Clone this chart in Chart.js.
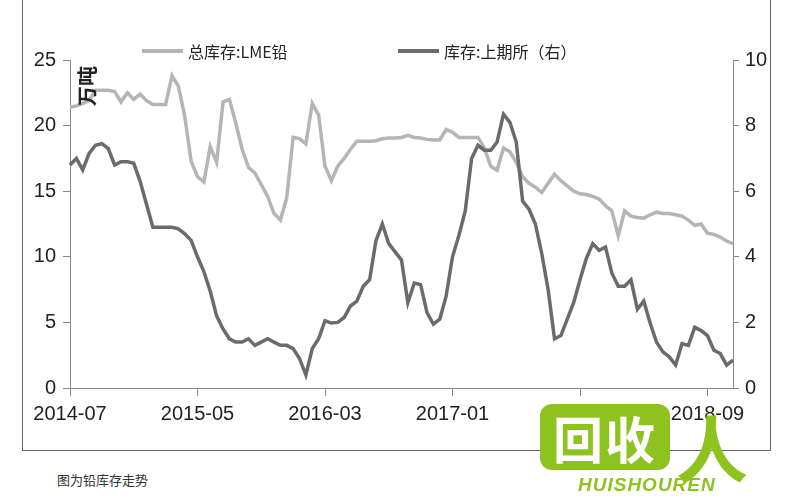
<!DOCTYPE html>
<html>
<head>
<meta charset="utf-8">
<script src="https://cdn.jsdelivr.net/npm/chart.js@4.4.1/dist/chart.umd.min.js"></script>
<style>
  body { margin: 0; background: #fff; }
  #wrap { position: relative; width: 800px; height: 500px; overflow: hidden; font-family: "Noto Sans CJK SC", sans-serif; }
  #box { position: absolute; left: 22px; top: -2px; width: 747px; height: 452px; border: 1px solid #666; border-top: none; }
  #chart { position: absolute; left: 0; top: 0; }
  .item { position: absolute; top: 39px; display: flex; align-items: center; font-size: 16px; color: #222; white-space: nowrap; }
  .swatch { width: 41px; height: 4px; margin-right: 5px; }
  #caption { position: absolute; left: 57px; top: 470px; font-size: 13px; color: #333; }
  #logo { position: absolute; left: 540px; top: 404px; width: 130px; height: 66px; background: #8dc21f; border-radius: 12px;
          color: #fff; font-size: 50px; font-weight: bold; line-height: 66px; text-align: center; letter-spacing: 2px; }
  #logo2 { position: absolute; left: 676px; top: 392px; color: #8dc21f; font-size: 72px; font-weight: bold; }
  #logo3 { position: absolute; left: 578px; top: 474px; color: #8dc21f; font: italic bold 19px "Liberation Sans", sans-serif; letter-spacing: 1px; }
</style>
</head>
<body>
<div id="wrap">
  <div id="box"></div>
  <canvas id="chart" width="800" height="440"></canvas>
  <div id="legend"></div>
  <div id="caption">图为铅库存走势</div>
  <div id="logo">回收</div>
  <div id="logo2">人</div>
  <div id="logo3">HUISHOUREN</div>
</div>
<script>
// 半月一个点：2014-07 ~ 2018-11
const fechas = [
  "2014-07-01","2014-07-16","2014-08-01","2014-08-16","2014-09-01","2014-09-16","2014-10-01","2014-10-16","2014-11-01","2014-11-16","2014-12-01","2014-12-16",
  "2015-01-01","2015-01-16","2015-02-01","2015-02-16","2015-03-01","2015-03-16","2015-04-01","2015-04-16","2015-05-01","2015-05-16","2015-06-01","2015-06-16",
  "2015-07-01","2015-07-16","2015-08-01","2015-08-16","2015-09-01","2015-09-16","2015-10-01","2015-10-16","2015-11-01","2015-11-16","2015-12-01","2015-12-16",
  "2016-01-01","2016-01-16","2016-02-01","2016-02-16","2016-03-01","2016-03-16","2016-04-01","2016-04-16","2016-05-01","2016-05-16","2016-06-01","2016-06-16",
  "2016-07-01","2016-07-16","2016-08-01","2016-08-16","2016-09-01","2016-09-16","2016-10-01","2016-10-16","2016-11-01","2016-11-16","2016-12-01","2016-12-16",
  "2017-01-01","2017-01-16","2017-02-01","2017-02-16","2017-03-01","2017-03-16","2017-04-01","2017-04-16","2017-05-01","2017-05-16","2017-06-01","2017-06-16",
  "2017-07-01","2017-07-16","2017-08-01","2017-08-16","2017-09-01","2017-09-16","2017-10-01","2017-10-16","2017-11-01","2017-11-16","2017-12-01","2017-12-16",
  "2018-01-01","2018-01-16","2018-02-01","2018-02-16","2018-03-01","2018-03-16","2018-04-01","2018-04-16","2018-05-01","2018-05-16","2018-06-01","2018-06-16",
  "2018-07-01","2018-07-16","2018-08-01","2018-08-16","2018-09-01","2018-09-16","2018-10-01","2018-10-16","2018-11-01"
];

// 总库存:LME铅 (万吨, 左轴)
const lme = [
  21.4, 21.5, 21.7, 21.9, 22.7, 22.7, 22.7, 22.6, 21.8, 22.5,
  22.0, 22.4, 21.9, 21.6, 21.6, 21.6, 23.8, 23.0, 20.7, 17.3,
  16.1, 15.7, 18.4, 17.2, 21.8, 22.0, 20.2, 18.2, 16.8, 16.4,
  15.5, 14.6, 13.3, 12.8, 14.5, 19.1, 19.0, 18.6, 21.7, 20.8,
  16.9, 15.8, 16.9, 17.5, 18.2, 18.8, 18.8, 18.8, 18.85, 19.0,
  19.05, 19.05, 19.1, 19.25, 19.1, 19.05, 18.95, 18.9, 18.9, 19.7,
  19.5, 19.1, 19.1, 19.1, 19.1, 18.3, 16.9, 16.6, 18.3, 18.0,
  17.2, 16.1, 15.6, 15.3, 14.9, 15.6, 16.3, 15.8, 15.4, 15.0,
  14.8, 14.75, 14.6, 14.4, 13.9, 13.5, 11.6, 13.5, 13.1, 13.0,
  12.95, 13.2, 13.4, 13.3, 13.3, 13.2, 13.1, 12.8, 12.4, 12.5,
  11.8, 11.7, 11.5, 11.2, 11.0
];

// 库存:上期所 (万吨, 右轴)
const shfe = [
  6.8, 7.0, 6.65, 7.15, 7.4, 7.45, 7.3, 6.8, 6.9, 6.9,
  6.85, 6.3, 5.6, 4.9, 4.9, 4.9, 4.9, 4.85, 4.7, 4.5,
  4.0, 3.55, 2.95, 2.2, 1.8, 1.5, 1.4, 1.4, 1.5, 1.3,
  1.4, 1.5, 1.4, 1.3, 1.3, 1.2, 0.9, 0.4, 1.2, 1.5,
  2.05, 1.98, 2.0, 2.15, 2.5, 2.65, 3.1, 3.3, 4.5, 5.0,
  4.4, 4.15, 3.9, 2.6, 3.2, 3.15, 2.3, 1.95, 2.1, 2.8,
  4.0, 4.65, 5.4, 7.0, 7.4, 7.25, 7.25, 7.5, 8.35, 8.1,
  7.5, 5.7, 5.45, 5.0, 4.1, 3.0, 1.5, 1.6, 2.1, 2.6,
  3.3, 3.95, 4.4, 4.2, 4.3, 3.5, 3.1, 3.1, 3.3, 2.4,
  2.65, 1.98, 1.4, 1.1, 0.95, 0.7, 1.35, 1.3, 1.85, 1.75,
  1.6, 1.15, 1.05, 0.7, 0.85
];

const nombres = ["总库存:LME铅", "库存:上期所（右）"];
const ticksIzq = [0, 5, 10, 15, 20, 25];
const ticksDer = [0, 2, 4, 6, 8, 10];
const unidad = "万吨";

const fuenteNum = "'Liberation Sans Narrow', 'Arial Narrow', 'Liberation Sans', sans-serif";

// título vertical "万吨" dentro del área
const tituloY = {
  id: "tituloY",
  afterDraw(chart) {
    const ctx = chart.ctx;
    ctx.save();
    ctx.translate(chart.chartArea.left + 17, chart.chartArea.top + 26);
    ctx.rotate(-Math.PI / 2);
    ctx.font = "bold 20px 'Noto Sans CJK SC', sans-serif";
    ctx.fillStyle = "#222";
    ctx.textAlign = "center";
    ctx.textBaseline = "middle";
    ctx.fillText(unidad, 0, 0);
    ctx.restore();
  },
};

const ctx = document.getElementById("chart").getContext("2d");
const chart = new Chart(ctx, {
  type: "line",
  data: {
    labels: fechas,
    datasets: [
      { label: nombres[0], data: lme, yAxisID: "y", borderColor: "#b5b5b5", backgroundColor: "#b5b5b5",
        borderWidth: 3.5, pointRadius: 0, tension: 0, order: 1 },
      { label: nombres[1], data: shfe, yAxisID: "y1", borderColor: "#6b6b6b", backgroundColor: "#6b6b6b",
        borderWidth: 3.5, pointRadius: 0, tension: 0, order: 0 },
    ],
  },
  options: {
    responsive: false,
    animation: false,
    layout: { padding: { top: 60, left: 0, right: 0, bottom: 0 } },
    plugins: { legend: { display: false }, tooltip: { enabled: false } },
    scales: {
      x: {
        type: "category",
        offset: false,
        afterBuildTicks: (s) => { s.ticks = s.ticks.filter((t) => t.value % 20 === 0); },
        afterFit: (s) => { s.height = 52; },
        grid: { drawOnChartArea: false, tickLength: 8, color: "#888" },
        border: { color: "#888" },
        ticks: {
          autoSkip: false, maxRotation: 0, padding: 6, color: "#222",
          font: { family: fuenteNum, size: 20 },
          callback: function (v) { return this.getLabelForValue(v).slice(0, 7); },
        },
      },
      y: {
        position: "left",
        min: 0, max: 25,
        afterBuildTicks: (s) => { s.ticks = ticksIzq.map((v) => ({ value: v })); },
        afterFit: (s) => { s.width = 70; },
        grid: { drawOnChartArea: false, tickLength: 7, color: "#888" },
        border: { color: "#888" },
        ticks: { padding: 7, color: "#222", font: { family: fuenteNum, size: 20 } },
      },
      y1: {
        position: "right",
        min: 0, max: 10,
        afterBuildTicks: (s) => { s.ticks = ticksDer.map((v) => ({ value: v })); },
        afterFit: (s) => { s.width = 67; },
        grid: { drawOnChartArea: false, tickLength: 6, color: "#888" },
        border: { color: "#888" },
        ticks: { padding: 6, color: "#222", font: { family: fuenteNum, size: 20 } },
      },
    },
  },
  plugins: [tituloY],
});

// leyenda en HTML
const legendLeft = [142, 398];
const legendEl = document.getElementById("legend");
chart.data.datasets.forEach((ds, i) => {
  const div = document.createElement("div");
  div.className = "item";
  div.style.left = legendLeft[i] + "px";
  div.innerHTML = `<span class="swatch" style="background:${ds.borderColor}"></span><span>${ds.label}</span>`;
  legendEl.appendChild(div);
});
</script>
</body>
</html>
